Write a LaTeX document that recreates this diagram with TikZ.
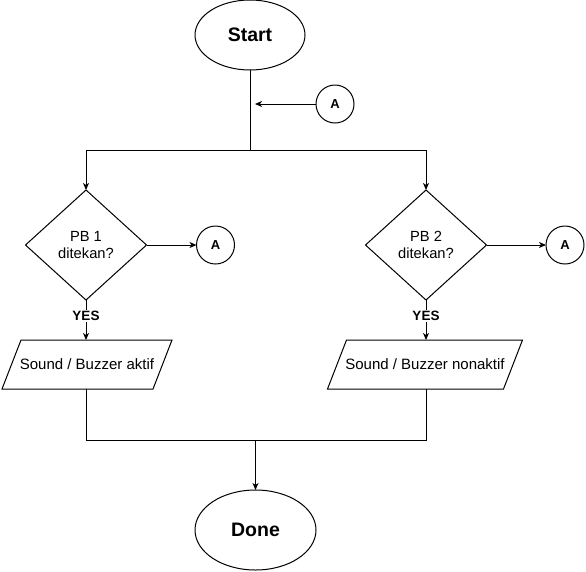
\documentclass[tikz,border=0pt]{standalone}
\usepackage{fontspec}
\setmainfont{Liberation Sans}
\usetikzlibrary{shapes.geometric,arrows.meta}
\begin{document}
\begin{tikzpicture}[x=1pt,y=-1pt,
  line width=1pt,
  every node/.style={inner sep=0pt,outer sep=0pt},
  term/.style={draw,ellipse,font=\fontsize{19.5}{22}\selectfont\bfseries},
  conn/.style={draw,circle,minimum size=38pt,font=\fontsize{13}{15}\selectfont\bfseries},
  decis/.style={draw,diamond,minimum width=121pt,minimum height=110pt,align=center,font=\fontsize{14.7}{16.5}\selectfont},
  io/.style={rectangle,minimum height=49pt,font=\fontsize{15}{17}\selectfont},
  lbl/.style={fill=white,inner sep=1pt,font=\fontsize{13.5}{15}\selectfont\bfseries},
  arr/.style={-{Stealth[length=7pt,width=6pt,inset=2pt]}}
]
\useasboundingbox (0,0) rectangle (586,571);

\node[term,minimum width=110pt,minimum height=70pt] (start) at (250,35) {Start};
\node[conn] (ca) at (335,104) {A};
\coordinate (j) at (250,150);
\coordinate (jl) at (86,150);
\coordinate (jr) at (426,150);
\coordinate (ain) at (255,104);

\node[decis] (d1) at (86,245) {PB 1\\ditekan?};
\node[decis] (d2) at (426,245) {PB 2\\ditekan?};
\node[conn] (a1) at (215.5,245) {A};
\node[conn] (a2) at (565,245) {A};

\node[io,minimum width=170pt] (p1) at (87,364.5) {Sound / Buzzer aktif};
\node[io,minimum width=195pt] (p2) at (425,364.5) {Sound / Buzzer nonaktif};
\foreach \p in {p1,p2}{
  \draw (\p.south west) -- ([xshift=19pt]\p.north west) -- (\p.north east) -- ([xshift=-19pt]\p.south east) -- cycle;
}

\coordinate (m1) at (86,440);
\coordinate (m2) at (426,440);
\node[term,minimum width=121pt,minimum height=80pt] (done) at (255.5,530) {Done};
\coordinate (mid) at (255.5,440);

\draw (start.south) -- (j);
\draw[arr] (ca.west) -- (ain);
\draw (jl) -- (jr);
\draw[arr] (jl) -- (d1.north);
\draw[arr] (jr) -- (d2.north);
\draw[arr] (d1.east) -- (a1.west);
\draw[arr] (d2.east) -- (a2.west);

\draw[arr] (d1.south) -- (d1.south |- p1.north);
\draw[arr] (d2.south) -- (d2.south |- p2.north);
\node[lbl] (y1) at (86,316) {YES};
\node[lbl] (y2) at (426,316) {YES};

\draw (d1.south |- p1.south) -- (m1) -- (m2) -- (d2.south |- p2.south);
\draw[arr] (mid) -- (done.north);
\end{tikzpicture}
\end{document}
